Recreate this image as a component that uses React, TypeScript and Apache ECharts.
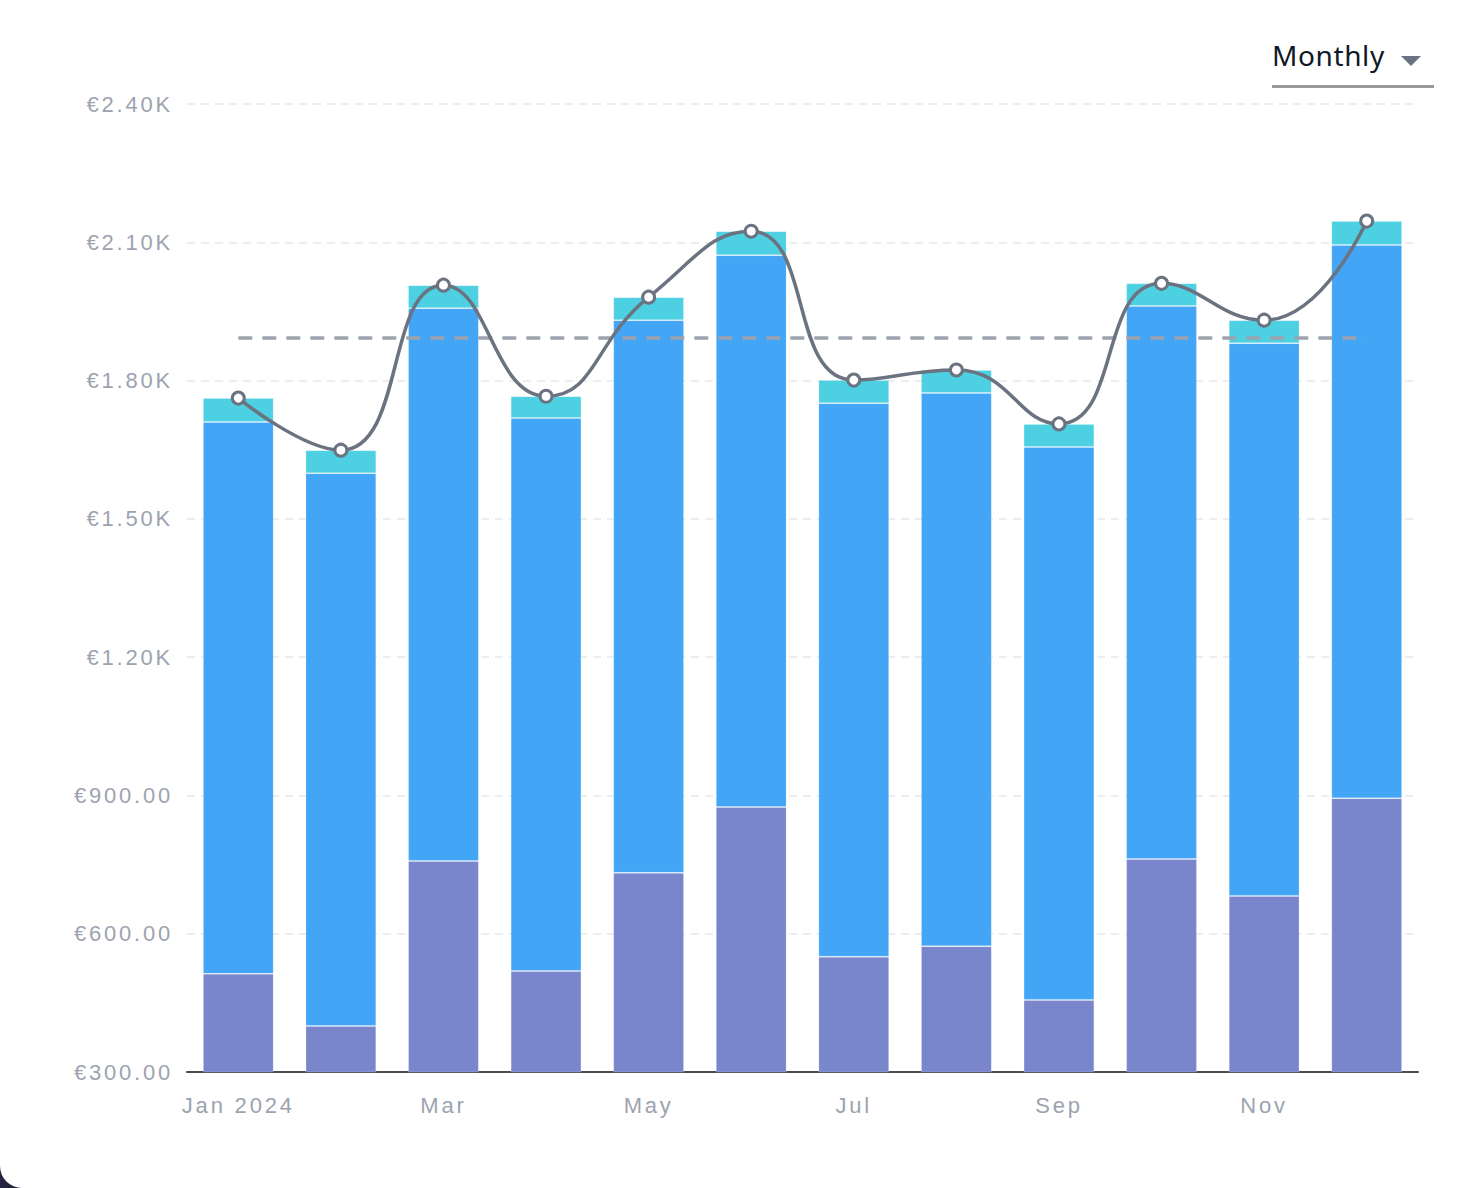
import * as echarts from 'echarts';
import { useEffect, useRef } from 'react';

const months = ['Jan 2024', 'Feb', 'Mar', 'Apr', 'May', 'Jun', 'Jul', 'Aug', 'Sep', 'Oct', 'Nov', 'Dec'];
const baseValues = [513, 400, 758, 519, 732, 875, 550, 573, 456, 762, 682, 894];
const midValues = [1197, 1199, 1199, 1200, 1199, 1197, 1201, 1200, 1200, 1200, 1199, 1200];
const topValues = [52, 50, 50, 47, 50, 52, 50, 50, 50, 49, 50, 52];
const yTicks = [300, 600, 900, 1200, 1500, 1800, 2100, 2400];

const totals = months.map((_, i) => baseValues[i] + midValues[i] + topValues[i]);
const average = totals.reduce((a, b) => a + b, 0) / totals.length;

const fmtEuro = (v: number) => (v >= 1000 ? '€' + (v / 1000).toFixed(2) + 'K' : '€' + v.toFixed(2));

const barBorder = { borderColor: 'rgba(255,255,255,0.18)', borderWidth: 1 };

export default function App() {
  const chartRef = useRef<HTMLDivElement>(null);

  useEffect(() => {
    if (!chartRef.current) return;
    const chart = echarts.init(chartRef.current, undefined, { renderer: 'svg' });
    chart.setOption({
      animation: false,
      textStyle: { fontFamily: '"Liberation Sans", Arial, sans-serif' },
      grid: { left: 187, right: 64, top: 104, bottom: 116 },
      xAxis: {
        type: 'category',
        data: months,
        axisTick: { show: false },
        axisLine: { lineStyle: { color: '#4b4b55', width: 2 } },
        axisLabel: { interval: 1, color: '#9ca3af', fontSize: 22, margin: 22 },
      },
      yAxis: {
        type: 'value',
        min: yTicks[0],
        max: yTicks[yTicks.length - 1],
        interval: 300,
        axisLine: { show: false },
        axisTick: { show: false },
        axisLabel: { color: '#9ca3af', fontSize: 22, margin: 14, formatter: fmtEuro },
        splitLine: { lineStyle: { color: '#ebedef', type: [8, 6], width: 2 } },
      },
      series: [
        {
          name: 'Base',
          type: 'bar',
          stack: 'total',
          barWidth: '69%',
          itemStyle: { color: '#7986cb', ...barBorder },
          data: baseValues,
        },
        {
          name: 'Mid',
          type: 'bar',
          stack: 'total',
          itemStyle: { color: '#42a5f5', ...barBorder },
          data: midValues,
        },
        {
          name: 'Top',
          type: 'bar',
          stack: 'total',
          itemStyle: { color: '#4dd0e1', ...barBorder },
          data: topValues,
        },
        {
          name: 'Total',
          type: 'line',
          smooth: true,
          z: 5,
          symbol: 'circle',
          symbolSize: 12,
          lineStyle: { color: '#6b7280', width: 3.5 },
          itemStyle: { color: '#ffffff', borderColor: '#6b7280', borderWidth: 3 },
          data: totals,
          markLine: {
            silent: true,
            symbol: 'none',
            label: { show: false },
            lineStyle: { color: '#9ca3af', type: [14, 10], width: 3.5 },
            data: [[{ coord: [0, average] }, { coord: [months.length - 1, average] }]],
          },
        },
      ],
    });
    return () => chart.dispose();
  }, []);

  return (
    <div
      style={{
        position: 'absolute',
        left: 0,
        top: 0,
        width: 1482,
        height: 1188,
        background: '#23233f',
      }}
    >
      <style>{`.chart-box svg text { letter-spacing: 2.8px; }`}</style>
      <div
        style={{
          position: 'absolute',
          inset: 0,
          background: '#ffffff',
          borderBottomLeftRadius: 22,
          overflow: 'hidden',
        }}
      >
        <div className="chart-box" ref={chartRef} style={{ width: 1482, height: 1188 }} />
        <div
          style={{
            position: 'absolute',
            left: 1272,
            top: 34,
            width: 162,
            height: 51,
            borderBottom: '3px solid #9a9a9a',
            fontFamily: '"Noto Sans", sans-serif',
            fontSize: 28,
            color: '#111827',
            letterSpacing: 0.6,
            lineHeight: '42px',
          }}
        >
          Monthly
          <div
            style={{
              position: 'absolute',
              left: 129,
              top: 22,
              width: 0,
              height: 0,
              borderLeft: '10px solid transparent',
              borderRight: '10px solid transparent',
              borderTop: '10px solid #6b7280',
            }}
          />
        </div>
      </div>
    </div>
  );
}
